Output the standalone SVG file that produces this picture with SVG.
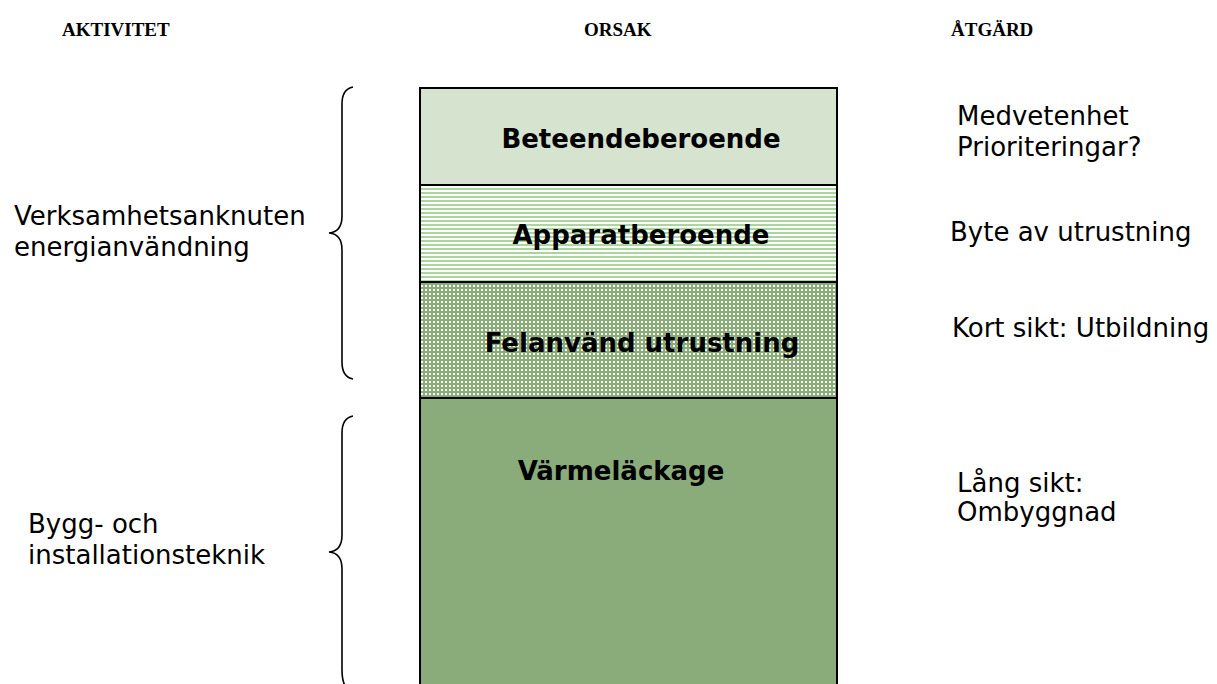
<svg xmlns="http://www.w3.org/2000/svg" width="1217" height="684" viewBox="0 0 1217 684">
<style>
.hdr{font-family:"Liberation Serif",serif;font-weight:bold;font-size:19px;fill:#000}
.lbl{font-family:"DejaVu Sans",Verdana,sans-serif;font-weight:bold;font-size:26px;fill:#000;text-anchor:middle}
.txt{font-family:"DejaVu Sans",Verdana,sans-serif;font-size:26px;fill:#000}
.brace{fill:none;stroke:#000;stroke-width:1.6}
.sep{stroke:#000;stroke-width:2}
</style>
<defs>
<pattern id="stripes" width="4" height="4" patternUnits="userSpaceOnUse">
<rect width="4" height="4" fill="#ffffff"/>
<rect y="0" width="4" height="2" fill="#a9d69a"/>
</pattern>
<pattern id="dots" width="4" height="4" patternUnits="userSpaceOnUse">
<rect width="4" height="4" fill="#8aac78"/>
<rect x="1" y="1" width="2" height="2" fill="#ffffff"/>
</pattern>
</defs>
<g id="headers">
<text class="hdr" x="62" y="36">AKTIVITET</text>
<text class="hdr" x="584" y="36">ORSAK</text>
<text class="hdr" x="951" y="36">ÅTGÄRD</text>
</g>
<g id="box">
<g id="n-beteende">
<rect x="420" y="88" width="417" height="97" fill="#d5e3cf"/>
<text class="lbl" x="641" y="148">Beteendeberoende</text>
</g>
<g id="n-apparat">
<rect x="420" y="185" width="417" height="97" fill="url(#stripes)"/>
<text class="lbl" x="641" y="244">Apparatberoende</text>
</g>
<g id="n-felanvand">
<rect x="420" y="282" width="417" height="116" fill="url(#dots)"/>
<text class="lbl" x="642" y="352">Felanvänd utrustning</text>
</g>
<g id="n-varme">
<rect x="420" y="398" width="417" height="290" fill="#8aac7a"/>
<text class="lbl" x="621" y="480">Värmeläckage</text>
</g>
<path d="M420,690 V88 H837 V690" fill="none" stroke="#000" stroke-width="2"/>
<line class="sep" x1="420" y1="185" x2="837" y2="185"/>
<line class="sep" x1="420" y1="282" x2="837" y2="282"/>
<line class="sep" x1="420" y1="398" x2="837" y2="398"/>
</g>
<g id="connectors">
<path class="brace" d="M353,87 Q342,89 342,104 V216 Q342,232 329,233 Q342,234 342,250 V362 Q342,377 353,379"/>
<path class="brace" d="M353,416 Q342,418 342,433 V535 Q342,551 329,552 Q342,553 342,569 V670 Q342,684 348,690"/>
</g>
<g id="left-labels">
<text class="txt" x="14" y="225">Verksamhetsanknuten</text>
<text class="txt" x="14" y="256">energianvändning</text>
<text class="txt" x="28" y="533">Bygg- och</text>
<text class="txt" x="28" y="564">installationsteknik</text>
</g>
<g id="right-labels">
<text class="txt" x="957" y="125">Medvetenhet</text>
<text class="txt" x="957" y="156">Prioriteringar?</text>
<text class="txt" x="950" y="241">Byte av utrustning</text>
<text class="txt" x="952" y="337">Kort sikt: Utbildning</text>
<text class="txt" x="957" y="492">Lång sikt:</text>
<text class="txt" x="957" y="521">Ombyggnad</text>
</g>
</svg>
